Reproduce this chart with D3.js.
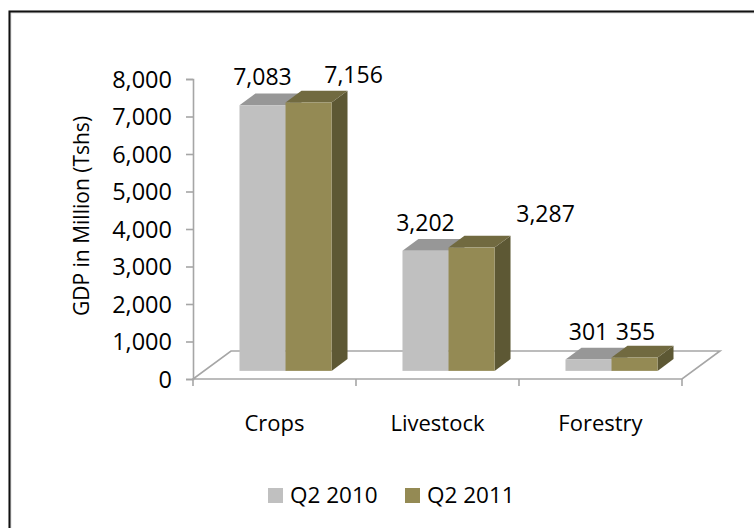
<!DOCTYPE html>
<html>
<head>
<meta charset="utf-8">
<script src="https://cdn.jsdelivr.net/npm/d3@7"></script>
<style>
  html, body { margin: 0; padding: 0; background: #fff; }
  svg { display: block; }
  text { font-family: "Open Sans", "Noto Sans", sans-serif; fill: #000; }
</style>
</head>
<body>
<svg id="chart" width="754" height="528"></svg>
<script>
// Agricultural GDP by sub-sector, second quarter comparison
const categories = ["Crops", "Livestock", "Forestry"];
const seriesNames = ["Q2 2010", "Q2 2011"];
const q2010 = [7083, 3202, 301];
const q2011 = [7156, 3287, 355];
const yTicks = [0, 1000, 2000, 3000, 4000, 5000, 6000, 7000, 8000];
const yTitle = "GDP in Million (Tshs)";

// Per-series face colours: front, top, side
const palette = [
  { front: "#c0c0c0", top: "#979797", side: "#8a8a8a" },
  { front: "#948a54", top: "#716a40", side: "#5d5834" }
];

// Label offsets in pixels (dx, dy) from the default spot above each bar
const labelShift = [
  [[0, 0], [45, 0]],
  [[0, 0], [74, -6]],
  [[0, 0], [1, 2]]
];

const svg = d3.select("#chart");
const W = 754, H = 528;

// Outer frame (only top and left edges fall inside the canvas)
svg.append("path")
  .attr("d", `M10,${H + 5} L10,12 L${W + 5},12`)
  .attr("fill", "none")
  .attr("stroke", "#ddd")
  .attr("stroke-width", 3);
svg.append("path")
  .attr("d", `M9.5,${H + 5} L9.5,11.5 L${W + 5},11.5`)
  .attr("fill", "none")
  .attr("stroke", "#111")
  .attr("stroke-width", 2);

// Plot geometry
const x0Left = 193, x0Right = 682;
const y = d3.scaleLinear().domain([0, 8000]).range([379, 79]);
const depth = { dx: 38, dy: -28 };        // floor depth vector
const barFront = 0.29, barBack = 0.71;     // bar depth span as fraction of floor depth

const x0 = d3.scaleBand().domain(categories).range([x0Left, x0Right]).padding(0);
const x1 = d3.scaleBand().domain(seriesNames).range([0, x0.bandwidth()])
  .paddingInner(0).paddingOuter(0.77);

const axisColor = "#a6a6a6";

// Floor
const g = svg.append("g");
g.append("polygon")
  .attr("points", [
    [x0Left, y(0)],
    [x0Right, y(0)],
    [x0Right + depth.dx, y(0) + depth.dy],
    [x0Left + depth.dx, y(0) + depth.dy]
  ].map(p => p.join(",")).join(" "))
  .attr("fill", "none")
  .attr("stroke", axisColor)
  .attr("stroke-width", 1.6);

// Category axis ticks
const catEdges = categories.map(c => x0(c)).concat([x0Right]);
g.selectAll("line.ctick").data(catEdges).join("line")
  .attr("class", "ctick")
  .attr("x1", d => d).attr("x2", d => d)
  .attr("y1", y(0)).attr("y2", y(0) + 7)
  .attr("stroke", axisColor).attr("stroke-width", 1.6);

// Value axis
const yAxis = d3.axisLeft(y).tickValues(yTicks).tickSize(7).tickPadding(14)
  .tickFormat(d3.format(","));
const ya = svg.append("g").attr("transform", `translate(${x0Left},0)`).call(yAxis);
ya.select(".domain").attr("stroke", axisColor).attr("stroke-width", 1.6);
ya.selectAll(".tick line").attr("stroke", axisColor).attr("stroke-width", 1.6);
ya.selectAll(".tick text")
  .attr("font-size", 23.5)
  .attr("font-family", "'Open Sans', 'Noto Sans', sans-serif")
  .attr("fill", "#000")
  .attr("dy", "0.36em");

// Axis title
svg.append("text")
  .attr("transform", `translate(89,216) rotate(-90)`)
  .attr("text-anchor", "middle")
  .attr("font-size", 21)
  .text(yTitle);

// Bars
const values = [q2010, q2011];
const fdx = depth.dx * barFront, fdy = depth.dy * barFront;
const bdx = depth.dx * (barBack - barFront), bdy = depth.dy * (barBack - barFront);
const bw = x1.bandwidth();

const bars = [];
categories.forEach((c, ci) => {
  seriesNames.forEach((s, si) => {
    const v = values[si][ci];
    const xl = x0(c) + x1(s) + fdx;
    const yt = y(v) + fdy;
    const yb = y(0) + fdy;
    bars.push({ c, ci, s, si, v, xl, yt, yb });
  });
});

const barG = svg.append("g");
bars.forEach(b => {
  const col = palette[b.si];
  const gb = barG.append("g");
  // side face
  gb.append("polygon")
    .attr("points", [
      [b.xl + bw, b.yb], [b.xl + bw + bdx, b.yb + bdy],
      [b.xl + bw + bdx, b.yt + bdy], [b.xl + bw, b.yt]
    ].map(p => p.join(",")).join(" "))
    .attr("fill", col.side);
  // top face
  gb.append("polygon")
    .attr("points", [
      [b.xl, b.yt], [b.xl + bw, b.yt],
      [b.xl + bw + bdx, b.yt + bdy], [b.xl + bdx, b.yt + bdy]
    ].map(p => p.join(",")).join(" "))
    .attr("fill", col.top);
  // front face
  gb.append("rect")
    .attr("x", b.xl).attr("y", b.yt)
    .attr("width", bw).attr("height", b.yb - b.yt)
    .attr("fill", col.front);
});

// Value labels
svg.append("g").selectAll("text").data(bars).join("text")
  .attr("x", b => b.xl + bw / 2 + labelShift[b.ci][b.si][0])
  .attr("y", b => b.yt - 20 + labelShift[b.ci][b.si][1])
  .attr("text-anchor", "middle")
  .attr("font-size", 23)
  .text(b => d3.format(",")(b.v));

// Category labels
svg.append("g").selectAll("text").data(categories).join("text")
  .attr("x", c => x0(c) + x0.bandwidth() / 2)
  .attr("y", 431)
  .attr("text-anchor", "middle")
  .attr("font-size", 22)
  .text(c => c);

// Legend
const legendX = [268, 405];
const leg = svg.append("g").selectAll("g").data(seriesNames).join("g")
  .attr("transform", (d, i) => `translate(${legendX[i]},488)`);
leg.append("rect").attr("width", 15).attr("height", 15)
  .attr("fill", (d, i) => palette[i].front);
leg.append("text").attr("x", 22).attr("y", 14.5)
  .attr("font-size", 22.5)
  .text(d => d);
</script>
</body>
</html>
